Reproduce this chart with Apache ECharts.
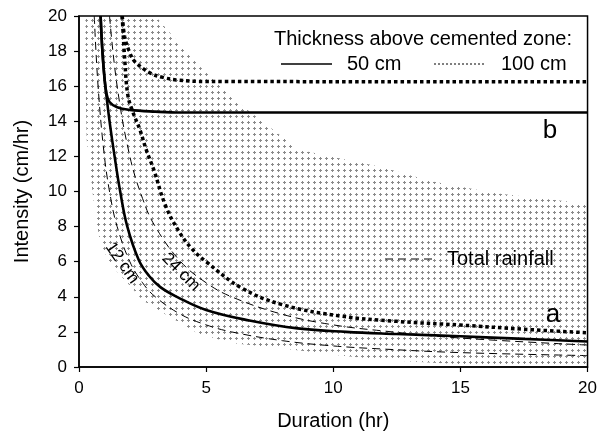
<!DOCTYPE html>
<html><head><meta charset="utf-8">
<script src="https://cdn.jsdelivr.net/npm/echarts@6/dist/echarts.min.js"></script>
<style>html,body{margin:0;padding:0;background:#fff}#c{width:600px;height:436px}</style>
</head><body><div id="c"></div>
<script>
// ---- data ----
const xTicks = [0, 5, 10, 15, 20];
const yTicks = [0, 2, 4, 6, 8, 10, 12, 14, 16, 18, 20];
// Thickness above cemented zone 50 cm, case a (solid)
const thick50a = [[0.85,20],[0.92,18],[1.0,16.5],[1.1,15.2],[1.22,13.8],[1.4,12],[1.62,10],[1.9,8],[2.35,6.1],[2.75,5.2],[3.2,4.55],[3.85,4.0],[5,3.25],[6.7,2.65],[8.6,2.2],[10.5,2.0],[12.5,1.88],[15,1.75],[17.5,1.6],[20,1.45]];
// 50 cm, case b (solid)
const thick50b = [[0.85,20],[0.92,18],[1.0,16.5],[1.08,15.6],[1.2,15.1],[1.5,14.8],[2,14.65],[3,14.55],[4,14.5],[20,14.5]];
// 100 cm, case a (dotted)
const thick100a = [[1.7,20],[1.8,17.5],[1.92,15.5],[2.1,14.6],[2.4,13.5],[2.64,12.4],[2.95,11.2],[3.4,9.2],[3.9,7.8],[4.4,6.8],[5,6.0],[6.4,4.5],[8,3.55],[10.3,2.9],[12.5,2.6],[15,2.39],[17.5,2.15],[20,1.95]];
// 100 cm, case b (dotted)
const thick100b = [[1.7,20],[1.8,18.8],[2.0,17.9],[2.2,17.4],[2.8,16.75],[3.3,16.5],[3.9,16.35],[5,16.27],[20,16.25]];
// Total rainfall 12 cm and 24 cm (dashed)
const rain12 = [[0.6,20],[0.75,16],[1,12],[1.25,9.6],[1.5,8],[2,6],[2.5,4.8],[3,4],[4,3],[5,2.4],[6,2],[8,1.5],[10,1.2],[12,1.02],[15,0.82],[20,0.65]];
const rain24 = [[1.2,20],[1.5,16],[2,12],[2.5,9.6],[3,8],[4,6],[5,4.8],[6,4],[8,3],[10,2.4],[12,2.05],[15,1.65],[20,1.25]];
// shaded region outline (duration, intensity)
const shadeT = [0.25,3.0,3.6,4.7,6.4,8.0,8.6,9.9,11.9,13.8,16.4,20,20,15,12,10,8.6,6,4.7,3.4,2.5,1.9,1.2,0.82,0.62,0.45,0.3,0.25];
const shadeI = [20,20,19,17.2,14.9,13.1,12.4,12,11.4,10.6,9.9,9.3,0.1,0.15,0.4,0.7,0.95,1.37,1.9,3.0,3.8,4.8,5.9,7.2,8.9,11,13,17];

const FONT = '"Liberation Sans", Arial, sans-serif';

// stipple pattern
const pat = document.createElement('canvas');
pat.width = 6; pat.height = 6;
const g = pat.getContext('2d');
g.fillStyle = '#8a8a8a';
g.fillRect(1, 2, 3, 1);
g.fillRect(2, 1, 1, 3);

const chart = echarts.init(document.getElementById('c'), null, {renderer: 'canvas'});

const axisCommon = {
  type: 'value', min: 0, max: 20,
  axisLine: {show: true, onZero: false, lineStyle: {color: '#000', width: 1.5}},
  axisTick: {show: true, inside: false, length: 5, lineStyle: {color: '#000', width: 1.2}},
  splitLine: {show: false},
  axisLabel: {color: '#000', fontSize: 17, fontFamily: FONT},
  nameLocation: 'middle',
  nameTextStyle: {color: '#000', fontSize: 20, fontFamily: FONT}
};

function lineSeries(name, data, style) {
  return {
    type: 'line', name: name, data: data, showSymbol: false, smooth: 0.4,
    lineStyle: style, z: 3, silent: true
  };
}

chart.setOption({
  animation: false,
  grid: {left: 79, right: 9, top: 16, bottom: 69, show: true, borderColor: '#000', borderWidth: 1.5, backgroundColor: 'transparent'},
  xAxis: Object.assign({}, axisCommon, {
    interval: 5, name: 'Duration (hr)', nameGap: 44,
    axisLabel: Object.assign({}, axisCommon.axisLabel, {margin: 13})
  }),
  yAxis: Object.assign({}, axisCommon, {
    interval: 2, name: 'Intensity (cm/hr)', nameGap: 47, nameRotate: 90,
    axisLabel: Object.assign({}, axisCommon.axisLabel, {margin: 12})
  }),
  series: [
    {
      type: 'custom', coordinateSystem: 'cartesian2d', silent: true, z: 1,
      data: [[0, 0]],
      renderItem: function (params, api) {
        const pts = shadeT.map((t, i) => api.coord([t, shadeI[i]]));
        return {type: 'polygon', shape: {points: pts}, style: {fill: {image: pat, repeat: 'repeat'}, stroke: null}};
      }
    },
    lineSeries('12 cm', rain12, {color: '#000', width: 1, type: [8, 5]}),
    lineSeries('24 cm', rain24, {color: '#000', width: 1, type: [8, 5]}),
    lineSeries('100 cm a', thick100a, {color: '#000', width: 3.5, type: [3.5, 3]}),
    lineSeries('100 cm b', thick100b, {color: '#000', width: 3.5, type: [3.5, 3]}),
    lineSeries('50 cm a', thick50a, {color: '#000', width: 2.6}),
    lineSeries('50 cm b', thick50b, {color: '#000', width: 2.6})
  ],
  graphic: [
    {type: 'text', x: 274, y: 39, z: 10, style: {text: 'Thickness above cemented zone:', font: '20px ' + FONT, fill: '#000', verticalAlign: 'middle'}},
    {type: 'line', z: 10, shape: {x1: 281, y1: 64, x2: 332, y2: 64}, style: {stroke: '#000', lineWidth: 1.6}},
    {type: 'text', x: 347, y: 64, z: 10, style: {text: '50 cm', font: '20px ' + FONT, fill: '#000', verticalAlign: 'middle'}},
    {type: 'line', z: 10, shape: {x1: 434, y1: 64, x2: 484, y2: 64}, style: {stroke: '#000', lineWidth: 1, lineDash: [2, 2]}},
    {type: 'text', x: 501, y: 64, z: 10, style: {text: '100 cm', font: '20px ' + FONT, fill: '#000', verticalAlign: 'middle'}},
    {type: 'line', z: 10, shape: {x1: 385, y1: 259, x2: 434, y2: 259}, style: {stroke: '#000', lineWidth: 1, lineDash: [8, 5]}},
    {type: 'text', x: 447, y: 259, z: 10, style: {text: 'Total rainfall', font: '20px ' + FONT, fill: '#000', verticalAlign: 'middle'}},
    {type: 'text', x: 550, y: 131, z: 10, style: {text: 'b', font: '26px ' + FONT, fill: '#000', align: 'center', verticalAlign: 'middle'}},
    {type: 'text', x: 553, y: 315, z: 10, style: {text: 'a', font: '26px ' + FONT, fill: '#000', align: 'center', verticalAlign: 'middle'}},
    {type: 'text', x: 122, y: 263, z: 10, rotation: -55 * Math.PI / 180, style: {text: '12 cm', font: '17px ' + FONT, fill: '#000', align: 'center', verticalAlign: 'middle'}},
    {type: 'text', x: 181, y: 272, z: 10, rotation: -45 * Math.PI / 180, style: {text: '24 cm', font: '17px ' + FONT, fill: '#000', align: 'center', verticalAlign: 'middle'}}
  ]
});
</script>
</body></html>
